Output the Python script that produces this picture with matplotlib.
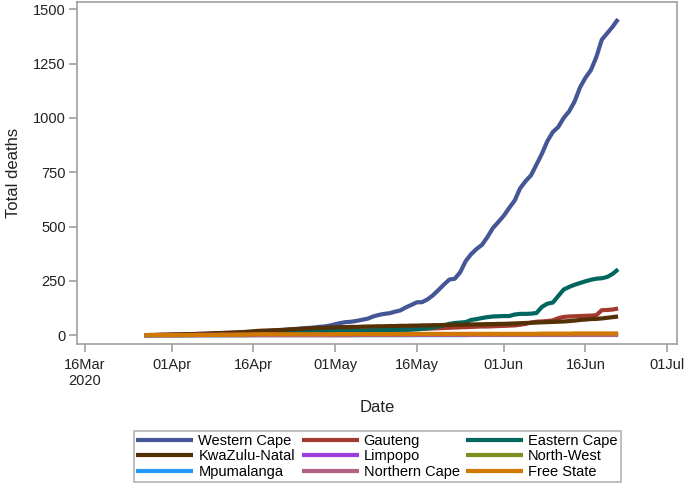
import pandas as pd
import matplotlib
matplotlib.use("Agg")
import matplotlib.pyplot as plt

plt.rcParams['font.family'] = ['Liberation Sans', 'DejaVu Sans']

# daily cumulative deaths, 27 Mar 2020 .. 22 Jun 2020
dates = pd.date_range("2020-03-27", "2020-06-22", freq="D")

western_cape = [
    0, 0, 0, 1, 1, 1, 2, 2, 3, 3,
    4, 5, 5, 6, 6, 8, 9, 10, 11, 12,
    13, 15, 17, 19, 20, 22, 24, 27, 29, 31,
    33, 35, 38, 40, 44, 50, 56, 60, 62, 66,
    71, 76, 86, 93, 98, 101, 108, 114, 128, 139,
    151, 152, 165, 184, 208, 233, 256, 260, 290, 341,
    373, 397, 416, 452, 493, 521, 550, 586, 620, 676,
    709, 736, 785, 835, 893, 935, 958, 1000, 1030, 1075,
    1140, 1185, 1220, 1280, 1360, 1390, 1420, 1455]
gauteng = [
    0, 0, 1, 1, 2, 2, 3, 3, 4, 5,
    6, 6, 7, 8, 9, 10, 10, 11, 11, 12,
    12, 13, 13, 14, 14, 15, 15, 16, 16, 17,
    17, 17, 18, 18, 18, 19, 19, 19, 20, 20,
    20, 21, 21, 22, 22, 23, 24, 25, 26, 27,
    28, 29, 30, 31, 32, 33, 34, 35, 36, 37,
    38, 39, 40, 40, 41, 42, 43, 44, 45, 48,
    52, 58, 62, 63, 65, 68, 78, 84, 86, 87,
    88, 89, 90, 92, 115, 116, 118, 123]
eastern_cape = [
    0, 0, 0, 0, 0, 0, 0, 0, 1, 1,
    1, 2, 2, 2, 3, 4, 4, 5, 5, 6,
    7, 8, 9, 10, 11, 12, 13, 14, 15, 16,
    17, 18, 19, 20, 20, 20, 21, 21, 21, 22,
    22, 22, 23, 23, 24, 24, 25, 25, 25, 26,
    27, 29, 32, 36, 40, 45, 52, 56, 58, 60,
    70, 74, 79, 83, 86, 87, 88, 88, 95, 98,
    98, 99, 102, 130, 145, 150, 180, 210, 222, 232,
    240, 248, 255, 260, 262, 268, 282, 303]
kwazulu_natal = [
    0, 1, 1, 2, 2, 3, 3, 4, 5, 5,
    6, 7, 8, 9, 10, 11, 12, 13, 14, 16,
    18, 20, 21, 22, 23, 24, 26, 27, 28, 30,
    31, 32, 33, 34, 35, 36, 37, 37, 38, 38,
    39, 40, 40, 41, 41, 42, 42, 43, 43, 44,
    44, 45, 45, 46, 46, 47, 47, 48, 48, 49,
    49, 50, 50, 51, 51, 52, 52, 53, 54, 55,
    56, 57, 58, 59, 60, 61, 62, 63, 65, 67,
    70, 72, 74, 75, 77, 80, 83, 86]
limpopo = [
    0, 0, 0, 0, 0, 0, 0, 0, 0, 0,
    2, 2, 2, 2, 2, 2, 2, 2, 2, 2,
    2, 2, 2, 2, 2, 2, 2, 2, 2, 2,
    3, 3, 3, 3, 3, 3, 3, 3, 3, 3,
    3, 3, 3, 3, 3, 3, 3, 3, 3, 3,
    4, 4, 4, 4, 4, 4, 4, 4, 4, 4,
    4, 4, 4, 4, 4, 4, 4, 4, 4, 4,
    5, 5, 5, 5, 5, 5, 5, 5, 5, 5,
    5, 5, 5, 5, 5, 5, 5, 5]
north_west = [
    0, 0, 0, 0, 0, 0, 0, 0, 0, 0,
    0, 0, 0, 0, 0, 0, 0, 0, 0, 0,
    1, 1, 1, 1, 1, 1, 1, 1, 1, 1,
    1, 1, 1, 1, 1, 1, 1, 1, 1, 1,
    1, 1, 1, 1, 1, 1, 1, 1, 1, 1,
    2, 2, 2, 2, 2, 2, 2, 2, 2, 2,
    2, 2, 2, 2, 2, 2, 2, 2, 2, 2,
    3, 3, 3, 3, 3, 3, 3, 3, 3, 3,
    3, 3, 3, 3, 3, 3, 3, 4]
mpumalanga = [
    0, 0, 0, 0, 0, 0, 0, 0, 0, 0,
    0, 0, 0, 0, 0, 0, 0, 0, 0, 0,
    0, 0, 0, 0, 0, 0, 0, 0, 0, 0,
    0, 0, 0, 0, 0, 0, 0, 0, 0, 0,
    0, 0, 0, 0, 0, 0, 0, 0, 0, 0,
    0, 0, 0, 0, 0, 0, 0, 0, 0, 0,
    1, 1, 1, 1, 1, 1, 1, 1, 1, 1,
    1, 1, 1, 1, 1, 1, 1, 1, 1, 1,
    2, 2, 2, 2, 2, 2, 2, 2]
northern_cape = [
    0, 0, 0, 0, 0, 0, 0, 0, 0, 0,
    0, 0, 0, 0, 0, 0, 0, 0, 0, 0,
    0, 0, 0, 0, 0, 0, 0, 0, 0, 0,
    0, 0, 0, 0, 0, 0, 0, 0, 0, 0,
    1, 1, 1, 1, 1, 1, 1, 1, 1, 1,
    1, 1, 1, 1, 1, 1, 1, 1, 1, 1,
    1, 1, 1, 1, 1, 1, 1, 1, 1, 1,
    1, 1, 1, 1, 1, 1, 1, 1, 1, 1,
    1, 1, 1, 1, 1, 1, 1, 1]
free_state = [
    0, 0, 0, 0, 0, 0, 0, 0, 1, 1,
    1, 1, 1, 1, 2, 2, 2, 3, 3, 3,
    4, 4, 4, 4, 4, 4, 4, 4, 4, 4,
    4, 4, 4, 4, 4, 5, 5, 5, 5, 5,
    5, 5, 5, 5, 5, 5, 5, 5, 5, 5,
    6, 6, 6, 6, 6, 6, 6, 6, 6, 6,
    6, 6, 6, 6, 6, 6, 6, 6, 6, 6,
    6, 6, 6, 7, 7, 7, 7, 7, 7, 8,
    8, 8, 8, 8, 8, 8, 8, 8]

series = [
    ("Western Cape", western_cape, "#445694"),
    ("Gauteng", gauteng, "#A23A2E"),
    ("Eastern Cape", eastern_cape, "#01665E"),
    ("KwaZulu-Natal", kwazulu_natal, "#543005"),
    ("Limpopo", limpopo, "#9D3CDB"),
    ("North-West", north_west, "#7F8E1F"),
    ("Mpumalanga", mpumalanga, "#2597FA"),
    ("Northern Cape", northern_cape, "#B26084"),
    ("Free State", free_state, "#D17800"),
]

tick_dates = pd.to_datetime(["2020-03-16", "2020-04-01", "2020-04-16", "2020-05-01",
                             "2020-05-16", "2020-06-01", "2020-06-16", "2020-07-01"])
tick_labels = ["16Mar\n2020", "01Apr", "16Apr", "01May", "16May", "01Jun", "16Jun", "01Jul"]
y_ticks = [0, 250, 500, 750, 1000, 1250, 1500]

fig = plt.figure(figsize=(6.85, 4.84), dpi=100)
ax = fig.add_axes([0.1124, 0.290, 0.876, 0.706])

handles = {}
for name, vals, col in series:
    h, = ax.plot(dates, vals, color=col, lw=3, label=name, solid_capstyle="butt")
    handles[name] = h

ax.set_xlim(pd.Timestamp("2020-03-14 14:00"), pd.Timestamp("2020-07-02 20:00"))
ax.set_ylim(-39, 1534)
ax.set_xticks(tick_dates)
ax.set_xticklabels(tick_labels)
ax.set_yticks(y_ticks)

gray = "#A0A0A0"
for s in ax.spines.values():
    s.set_color(gray)
    s.set_linewidth(1.2)
ax.tick_params(direction="out", color=gray, length=6, width=1.2,
               labelsize=10.5, labelcolor="#222222")
ax.tick_params(axis="x", pad=4)
ax.tick_params(axis="y", pad=2)
ax.set_xlabel("Date", fontsize=12, labelpad=9, color="#222222")
ax.set_ylabel("Total deaths", fontsize=12, labelpad=9, color="#222222")

order = ["Western Cape", "KwaZulu-Natal", "Mpumalanga",
         "Gauteng", "Limpopo", "Northern Cape",
         "Eastern Cape", "North-West", "Free State"]
leg = fig.legend([handles[n] for n in order], order, ncol=3,
                 loc="lower center", bbox_to_anchor=(0.5505, 0.004),
                 borderaxespad=0, fontsize=10.5, frameon=True, fancybox=False,
                 handlelength=3.9, borderpad=0.2, labelspacing=0.12,
                 columnspacing=0.45, handletextpad=0.35)
leg.get_frame().set_edgecolor(gray)
leg.get_frame().set_linewidth(1.2)

fig.savefig("out.png", dpi=100)
